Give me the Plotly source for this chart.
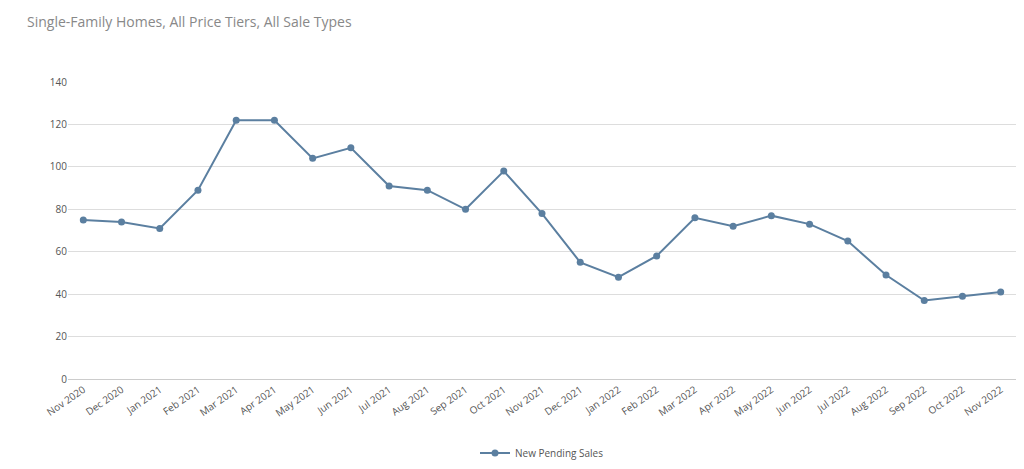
import plotly.graph_objects as go

months = ["Nov 2020", "Dec 2020", "Jan 2021", "Feb 2021", "Mar 2021", "Apr 2021", "May 2021",
          "Jun 2021", "Jul 2021", "Aug 2021", "Sep 2021", "Oct 2021", "Nov 2021", "Dec 2021",
          "Jan 2022", "Feb 2022", "Mar 2022", "Apr 2022", "May 2022", "Jun 2022", "Jul 2022",
          "Aug 2022", "Sep 2022", "Oct 2022", "Nov 2022"]
pending_sales = [75, 74, 71, 89, 122, 122, 104, 109, 91, 89, 80, 98, 78, 55,
                 48, 58, 76, 72, 77, 73, 65, 49, 37, 39, 41]

fig = go.Figure()
fig.add_trace(go.Scatter(x=months, y=pending_sales, mode="lines+markers", name="New Pending Sales",
                         line=dict(color="#5b7fa0", width=2), marker=dict(size=7, color="#5b7fa0")))

fig.update_layout(
    width=1024, height=469,
    paper_bgcolor="white", plot_bgcolor="white",
    font=dict(family="Open Sans", color="#555"),
    margin=dict(l=60, r=16, t=74, b=98, autoexpand=False),
    showlegend=True,
    legend=dict(orientation="h", x=0.5, xanchor="center", y=-0.2, yanchor="top", font=dict(size=10)),
    xaxis=dict(tickangle=-35, tickfont=dict(size=10), showgrid=False, showline=True,
               linecolor="#ccc", range=[-0.4, 24.4], automargin=False),
    yaxis=dict(range=[0, 140], dtick=20, gridcolor="#ddd", tickfont=dict(size=10),
               zeroline=True, zerolinecolor="#ccc", automargin=False),
    annotations=[
        dict(text="Weston (City): New Pending Sales", xref="paper", yref="paper", x=-0.045, y=1.25,
             xanchor="left", yanchor="bottom", showarrow=False, font=dict(size=20, color="#444")),
        dict(text="Single-Family Homes, All Price Tiers, All Sale Types", xref="paper", yref="paper",
             x=-0.045, y=1.165, xanchor="left", yanchor="bottom", showarrow=False,
             font=dict(size=14, color="#888")),
    ],
)

fig.write_html("out.html")
